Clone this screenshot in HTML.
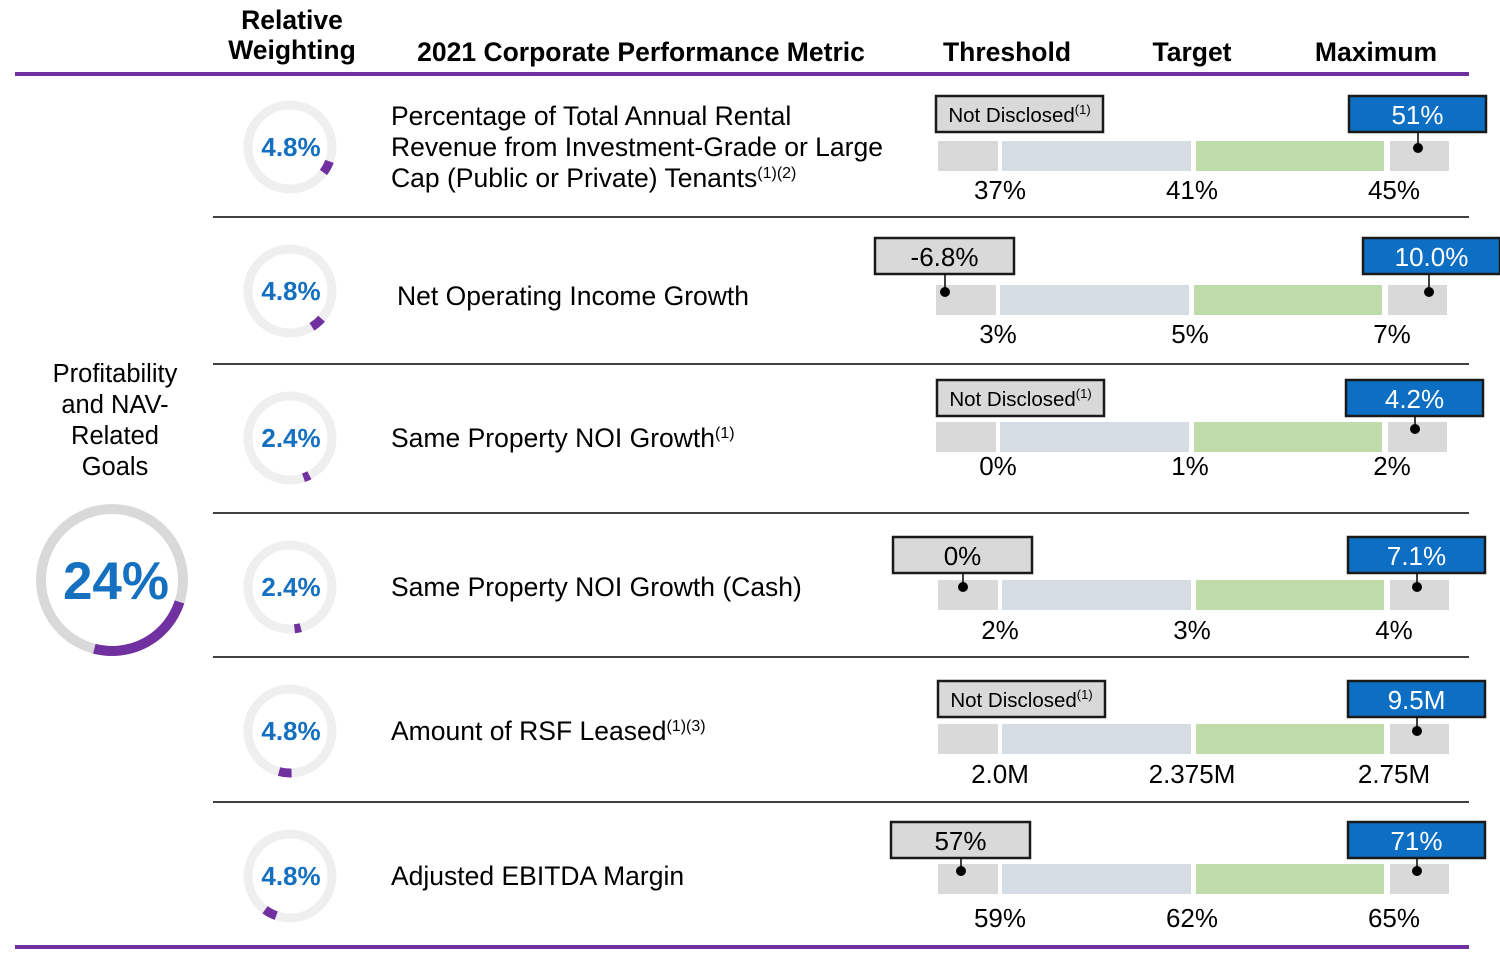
<!DOCTYPE html>
<html><head><meta charset="utf-8">
<style>
html,body{margin:0;padding:0;background:#fff;}
svg{display:block;font-family:"Liberation Sans",Arial,sans-serif;}
</style></head>
<body>
<svg id="chart" width="1500" height="969" viewBox="0 0 1500 969">
  <g font-weight="bold" font-size="26.5" fill="#000" text-anchor="middle">
    <text x="292" y="29">Relative</text>
    <text x="292" y="59">Weighting</text>
    <text x="641" y="61">2021 Corporate Performance Metric</text>
    <text x="1007" y="61">Threshold</text>
    <text x="1192" y="61">Target</text>
    <text x="1376" y="61">Maximum</text>
  </g>
  <rect x="15" y="72" width="1454" height="4" fill="#7030a0"/>
  <rect x="15" y="945" width="1454" height="4" fill="#7030a0"/>
  <g font-size="25.5" text-anchor="middle" fill="#000">
    <text x="115" y="382">Profitability</text>
    <text x="115" y="413">and NAV-</text>
    <text x="115" y="444">Related</text>
    <text x="115" y="475">Goals</text>
  </g>
  <g id="rows"></g>
  <g id="total"></g>
</svg>
<script>
const metrics = ["Percentage of Total Annual Rental|Revenue from Investment-Grade or Large|Cap (Public or Private) Tenants", "Net Operating Income Growth", "Same Property NOI Growth", "Same Property NOI Growth (Cash)", "Amount of RSF Leased", "Adjusted EBITDA Margin"];
const footnotes = ["(1)(2)", "", "(1)", "", "(1)(3)", ""];
const weights = [4.8, 4.8, 2.4, 2.4, 4.8, 4.8];
const weightLabels = ["4.8%", "4.8%", "2.4%", "2.4%", "4.8%", "4.8%"];
const thresholdLabels = ["37%", "3%", "0%", "2%", "2.0M", "59%"];
const targetLabels = ["41%", "5%", "1%", "3%", "2.375M", "62%"];
const maximumLabels = ["45%", "7%", "2%", "4%", "2.75M", "65%"];
const priorLabels = ["Not Disclosed", "-6.8%", "Not Disclosed", "0%", "Not Disclosed", "57%"];
const actualLabels = ["51%", "10.0%", "4.2%", "7.1%", "9.5M", "71%"];
const totalWeight = 24;

const NS = "http://www.w3.org/2000/svg";
function mk(tag, attrs, parent){const e=document.createElementNS(NS,tag);for(const k in attrs)e.setAttribute(k,attrs[k]);parent.appendChild(e);return e;}
function arcPath(cx,cy,r,a0,a1){const p=a=>[cx+r*Math.sin(a*Math.PI/180),cy-r*Math.cos(a*Math.PI/180)];const s=p(a0),e=p(a1);return `M${s[0]},${s[1]} A${r},${r} 0 ${a1-a0>180?1:0} 1 ${e[0]},${e[1]}`;}

const rowsG=document.getElementById('rows');
const rowCY=[147,291,438,587,731,876];
const barY=[141,285,422,580,724,864];
const barX0=[938,936,936,938,938,938];
const boxY=[96,238,380,537,681,822];
const priorX=[936,875,937,893,938,891];
const actualX=[1349,1363,1346,1348,1348,1348];
const labY=[199,343,475,639,783,927];
const textX=[391,397,391,391,391,391];
const textDY=[0,14,9,9,9,9];
let cum=110;
metrics.forEach((m,i)=>{
  const g=mk('g',{},rowsG);
  
  
  if(i>0){const l=mk('rect',{x:213,y:rowCY[i]-75,width:1256,height:2,fill:'#404040'},g);
    }
  const cx=290, cy=rowCY[i];
  const ring=mk('circle',{cx:cx,cy:cy,r:42,fill:'none',stroke:'#efefef','stroke-width':9},g);
  
  const sweep=weights[i]/100*360;
  const arc=mk('path',{d:arcPath(cx,cy,42,cum,cum+sweep),fill:'none',stroke:'#7030a0','stroke-width':9},g);
  
  cum+=sweep+4;
  const wt=mk('text',{x:cx+1,y:cy+9,'text-anchor':'middle','font-size':26,'font-weight':'bold',fill:'#1570c0'},g);
  wt.textContent=weightLabels[i];
  
  const lines=m.split('|');
  const ty=lines.length>1?cy-22:cy+textDY[i];
  lines.forEach((ln,j)=>{
    const t=mk('text',{x:textX[i],y:ty+j*31,'font-size':26.5,fill:'#000'},g);
    t.textContent=ln;
    if(j===lines.length-1&&footnotes[i]){const s=mk('tspan',{'font-size':16,dy:-9},t);s.textContent=footnotes[i];}
    
  });
  const x0=barX0[i], by=barY[i];
  const segs=[[0,60,'#d9d9d9'],[64,189,'#d6dce4'],[258,188,'#c0dcaa'],[452,59,'#d9d9d9']];
  segs.forEach((s,k)=>{const r=mk('rect',{x:x0+s[0],y:by,width:s[1],height:30,fill:s[2]},g);
    });
  [[thresholdLabels[i],x0+62],[targetLabels[i],x0+254],[maximumLabels[i],x0+456]].forEach((a,k)=>{
    const t=mk('text',{x:a[1],y:labY[i],'text-anchor':'middle','font-size':26,fill:'#000'},g);
    t.textContent=a[0];});
  const nd=priorLabels[i]==="Not Disclosed";
  const pw=nd?167:139, px=priorX[i], py=boxY[i];
  const pb=mk('rect',{x:px,y:py,width:pw,height:36,fill:'#d9d9d9',stroke:'#1a1a1a','stroke-width':2.5},g);
  
  const pt=mk('text',{x:px+pw/2,y:py+(nd?26:28),'text-anchor':'middle','font-size':nd?20.5:26,fill:'#000'},g);
  pt.textContent=priorLabels[i];
  if(nd){const s=mk('tspan',{'font-size':13,dy:-8},pt);s.textContent='(1)';}
  
  if(!nd){const dx=px+70;mk('line',{x1:dx,y1:py+36,x2:dx,y2:by+7,stroke:'#000','stroke-width':1.5},g);
    const d=mk('circle',{cx:dx,cy:by+7,r:5,fill:'#000'},g);}
  const ax=actualX[i], aw=137;
  const ab=mk('rect',{x:ax,y:py,width:aw,height:36,fill:'#0d6fc4',stroke:'#1a1a1a','stroke-width':2.5},g);
  
  const at=mk('text',{x:ax+aw/2,y:py+28,'text-anchor':'middle','font-size':26,fill:'#fff'},g);
  at.textContent=actualLabels[i];
  const dx=ax+(ax===1363?66:69);
  mk('line',{x1:dx,y1:py+36,x2:dx,y2:by+7,stroke:'#000','stroke-width':1.5},g);
  const d=mk('circle',{cx:dx,cy:by+7,r:5,fill:'#000'},g);
});
const tg=document.getElementById('total');


mk('circle',{cx:112,cy:580,r:71,fill:'none',stroke:'#d9d9d9','stroke-width':10},tg);
const tarc=mk('path',{d:arcPath(112,580,71,108,108+totalWeight/100*360),fill:'none',stroke:'#7030a0','stroke-width':10},tg);


const tt=mk('text',{x:116,y:599,'text-anchor':'middle','font-size':53,'font-weight':'bold',fill:'#1570c0'},tg);
tt.textContent=totalWeight+'%';


</script>
</body></html>
